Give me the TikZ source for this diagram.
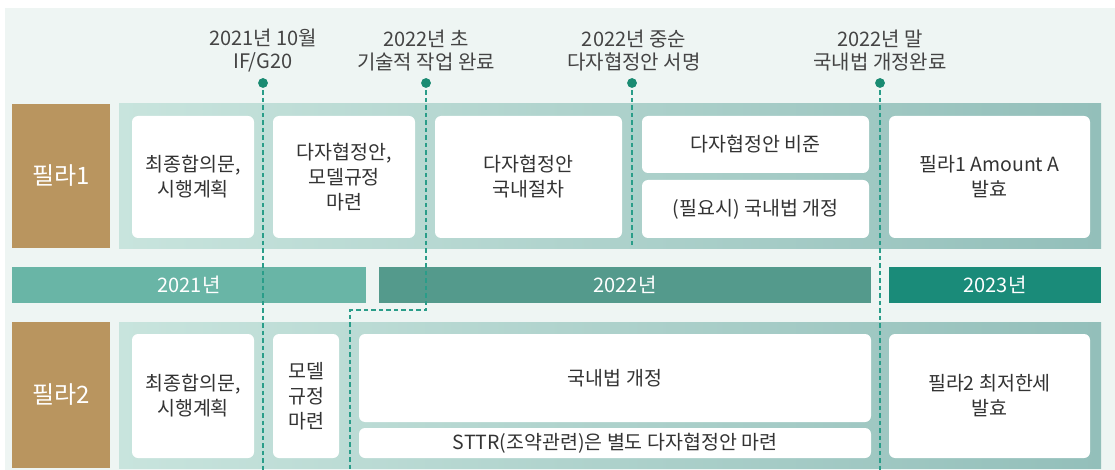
\documentclass[tikz,border=0pt]{standalone}
\usepackage{fontspec}
\setmainfont{Noto Sans CJK KR}
\definecolor{bgc}{HTML}{EEF5F3}
\definecolor{tan}{HTML}{B9955F}
\definecolor{bandl}{HTML}{C8E4DD}
\definecolor{bandr}{HTML}{93BFBA}
\definecolor{yr1}{HTML}{69B5A6}
\definecolor{yr2}{HTML}{549A8C}
\definecolor{yr3}{HTML}{1A8B79}
\definecolor{dotc}{HTML}{1A8B72}
\definecolor{dashc}{HTML}{2A9D89}
\definecolor{txt}{HTML}{333333}
\definecolor{toptxt}{HTML}{444444}
\tikzset{
  wbox/.style={draw=none, fill=white, rounded corners=6pt, inner sep=0pt, align=center,
    font=\fontsize{19.5}{25}\selectfont, text=txt},
  pillar/.style={fill=tan, inner sep=0pt, text=white, font=\fontsize{24}{26}\selectfont},
  band/.style={inner sep=0pt, left color=bandl, right color=bandr},
  yearbar/.style={inner sep=0pt, text=white, font=\fontsize{20}{22}\selectfont, minimum height=36pt},
  toplabel/.style={align=center, text=toptxt, font=\fontsize{20}{23}\selectfont, inner sep=0pt},
  dotn/.style={circle, fill=dotc, minimum size=9.5pt, inner sep=0pt},
  dashline/.style={draw=dashc, line width=1.1pt, dash pattern=on 4.5pt off 3pt}
}
\begin{document}
\begin{tikzpicture}[x=1pt,y=-1pt]
\useasboundingbox (0,0) rectangle (1115,470);
\fill[bgc] (5,8) rectangle (1115,470);
% pillar bands
\node[band, minimum width=982pt, minimum height=144pt] (band1) at (610,176) {};
\node[band, minimum width=982pt, minimum height=146pt] (band2) at (610,395) {};
\node[pillar, minimum width=98pt, minimum height=144pt] (p1) at (61,176) {필라1};
\node[pillar, minimum width=98pt, minimum height=146pt] (p2) at (61,395) {필라2};
% pillar 1 boxes
\node[wbox, minimum width=122pt, minimum height=122pt] (a1) at (193,177) {최종합의문,\\시행계획};
\node[wbox, minimum width=142pt, minimum height=122pt] (a2) at (344,177) {다자협정안,\\모델규정\\마련};
\node[wbox, minimum width=187pt, minimum height=122pt] (a3) at (528.5,177) {다자협정안\\국내절차};
\node[wbox, minimum width=227pt, minimum height=57pt] (a4) at (755.5,144.5) {다자협정안 비준};
\node[wbox, minimum width=227pt, minimum height=58pt] (a5) at (755.5,209) {(필요시) 국내법 개정};
\node[wbox, minimum width=201pt, minimum height=122pt] (a6) at (989.5,177) {필라1 Amount A\\발효};
% years
\node[yearbar, fill=yr1, minimum width=354pt] (y1) at (189,285) {2021년};
\node[yearbar, fill=yr2, minimum width=492pt] (y2) at (625,285) {2022년};
\node[yearbar, fill=yr3, minimum width=212pt] (y3) at (995,285) {2023년};
% pillar 2 boxes
\node[wbox, minimum width=122pt, minimum height=124pt] (b1) at (193,396) {최종합의문,\\시행계획};
\node[wbox, minimum width=66pt, minimum height=124pt] (b2) at (306,396) {모델\\규정\\마련};
\node[wbox, minimum width=512pt, minimum height=88pt] (b3) at (615,378) {국내법 개정};
\node[wbox, minimum width=512pt, minimum height=30pt] (b4) at (615,443) {STTR(조약관련)은 별도 다자협정안 마련};
\node[wbox, minimum width=201pt, minimum height=124pt] (b5) at (989.5,396) {필라2 최저한세\\발효};
% top labels
\node[toplabel] (t1) at (263,51) {2021년 10월\\IF/G20};
\node[toplabel] (t2) at (426,51) {2022년 초\\기술적 작업 완료};
\node[toplabel] (t3) at (634,51) {2022년 중순\\다자협정안 서명};
\node[toplabel] (t4) at (880,51) {2022년 말\\국내법 개정완료};
% milestones
\node[dotn] (d1) at (263,83) {};
\node[dotn] (d2) at (426,83) {};
\node[dotn] (d3) at (632,83) {};
\node[dotn] (d4) at (880,83) {};
\coordinate (e1) at (263,470);
\coordinate (k2a) at (426,310);
\coordinate (k2b) at (350,310);
\coordinate (e2) at (350,470);
\coordinate (e3) at (632,248);
\coordinate (e4) at (880,470);
\draw[dashline] (d1.center) -- (e1);
\draw[dashline] (d2.center) -- (k2a) -- (k2b) -- (e2);
\draw[dashline] (d3.center) -- (e3);
\draw[dashline] (d4.center) -- (e4);
\node[dotn] at (d1) {};
\node[dotn] at (d2) {};
\node[dotn] at (d3) {};
\node[dotn] at (d4) {};
\end{tikzpicture}
\end{document}
